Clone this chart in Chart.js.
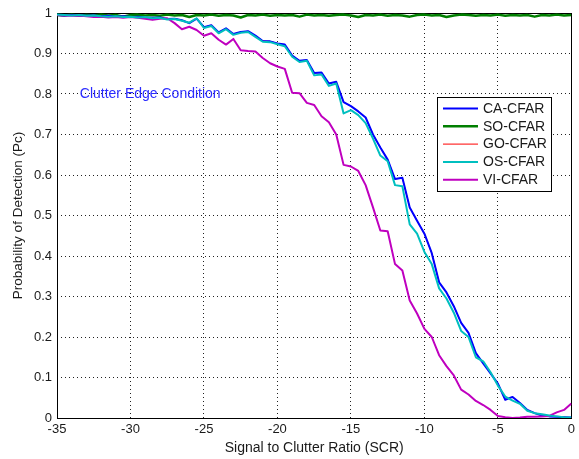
<!DOCTYPE html>
<html>
<head>
<meta charset="utf-8">
<title>Pc vs SCR</title>
<script src="https://cdn.jsdelivr.net/npm/chart.js@4.4.1/dist/chart.umd.min.js"></script>
<style>
  html, body { margin: 0; padding: 0; background: #fff; }
  canvas { display: block; }
</style>
</head>
<body>
<canvas id="pcChart" width="579" height="459"></canvas>
<script>
// signal to clutter ratio (dB)
var snr = [
  -35, -34.5, -34, -33.5, -33, -32.5, -32, -31.5, -31, -30.5,
  -30, -29.5, -29, -28.5, -28, -27.5, -27, -26.5, -26, -25.5,
  -25, -24.5, -24, -23.5, -23, -22.5, -22, -21.5, -21, -20.5,
  -20, -19.5, -19, -18.5, -18, -17.5, -17, -16.5, -16, -15.5,
  -15, -14.5, -14, -13.5, -13, -12.5, -12, -11.5, -11, -10.5,
  -10, -9.5, -9, -8.5, -8, -7.5, -7, -6.5, -6, -5.5,
  -5, -4.5, -4, -3.5, -3, -2.5, -2, -1.5, -1, -0.5,
  0
];

var caCfar = [
  0.995, 0.994, 0.995, 0.994, 0.993, 0.994, 0.992, 0.993, 0.991, 0.992,
  0.990, 0.991, 0.989, 0.988, 0.989, 0.985, 0.986, 0.982, 0.975, 0.986,
  0.965, 0.970, 0.952, 0.962, 0.948, 0.953, 0.955, 0.944, 0.931, 0.930,
  0.925, 0.922, 0.895, 0.882, 0.884, 0.852, 0.853, 0.826, 0.830, 0.780,
  0.770, 0.757, 0.742, 0.700, 0.668, 0.638, 0.590, 0.593, 0.520, 0.487,
  0.455, 0.407, 0.335, 0.310, 0.276, 0.235, 0.210, 0.160, 0.135, 0.110,
  0.085, 0.045, 0.052, 0.037, 0.020, 0.012, 0.006, 0.004, 0.003, 0.002,
  0.001
];

var soCfar = [
  0.995, 0.994, 0.996, 0.993, 0.995, 0.994, 0.996, 0.994, 0.995, 0.991,
  0.995, 0.996, 0.994, 0.995, 0.993, 0.996, 0.994, 0.995, 0.990, 0.995,
  0.994, 0.996, 0.993, 0.995, 0.994, 0.989, 0.995, 0.994, 0.996, 0.993,
  0.995, 0.994, 0.995, 0.991, 0.996, 0.994, 0.995, 0.993, 0.995, 0.996,
  0.994, 0.990, 0.995, 0.994, 0.996, 0.993, 0.995, 0.994, 0.991, 0.995,
  0.996, 0.994, 0.995, 0.990, 0.994, 0.996, 0.995, 0.993, 0.995, 0.994,
  0.996, 0.993, 0.995, 0.994, 0.995, 0.991, 0.995, 0.994, 0.996, 0.994,
  0.995
];

var goCfar = [
  0.995, 0.994, 0.995, 0.994, 0.993, 0.994, 0.992, 0.993, 0.991, 0.992,
  0.990, 0.991, 0.989, 0.988, 0.989, 0.985, 0.986, 0.982, 0.975, 0.986,
  0.965, 0.970, 0.952, 0.962, 0.948, 0.953, 0.955, 0.944, 0.931, 0.930,
  0.925, 0.922, 0.895, 0.882, 0.884, 0.852, 0.853, 0.826, 0.830, 0.780,
  0.770, 0.757, 0.742, 0.700, 0.668, 0.638, 0.590, 0.593, 0.520, 0.487,
  0.455, 0.407, 0.335, 0.310, 0.276, 0.235, 0.210, 0.160, 0.135, 0.110,
  0.085, 0.045, 0.052, 0.037, 0.020, 0.012, 0.006, 0.004, 0.003, 0.002,
  0.001
];

var osCfar = [
  0.996, 0.995, 0.994, 0.995, 0.993, 0.994, 0.992, 0.991, 0.992, 0.990,
  0.991, 0.989, 0.990, 0.987, 0.988, 0.984, 0.985, 0.981, 0.976, 0.987,
  0.963, 0.968, 0.950, 0.960, 0.946, 0.951, 0.953, 0.941, 0.929, 0.928,
  0.923, 0.918, 0.892, 0.879, 0.882, 0.846, 0.848, 0.820, 0.826, 0.752,
  0.760, 0.748, 0.728, 0.690, 0.648, 0.634, 0.575, 0.572, 0.478, 0.455,
  0.410, 0.380, 0.320, 0.295, 0.260, 0.215, 0.200, 0.150, 0.140, 0.113,
  0.080, 0.053, 0.043, 0.035, 0.018, 0.012, 0.009, 0.006, 0.004, 0.002,
  0.001
];

var viCfar = [
  0.995, 0.994, 0.993, 0.994, 0.992, 0.990, 0.991, 0.989, 0.990, 0.988,
  0.990, 0.988, 0.986, 0.983, 0.986, 0.987, 0.975, 0.960, 0.966, 0.958,
  0.944, 0.950, 0.934, 0.922, 0.936, 0.908, 0.906, 0.905, 0.889, 0.876,
  0.868, 0.862, 0.803, 0.802, 0.778, 0.773, 0.745, 0.730, 0.700, 0.625,
  0.621, 0.610, 0.575, 0.520, 0.463, 0.461, 0.380, 0.364, 0.290, 0.258,
  0.220, 0.200, 0.155, 0.128, 0.105, 0.070, 0.058, 0.042, 0.032, 0.020,
  0.005, 0.002, 0.000, 0.001, 0.003, 0.003, 0.004, 0.005, 0.014, 0.020,
  0.036
];

var xTicks = [-35, -30, -25, -20, -15, -10, -5, 0];
var yTicks = [0, 0.1, 0.2, 0.3, 0.4, 0.5, 0.6, 0.7, 0.8, 0.9, 1];

function toPoints(values) {
  return snr.map(function (x, i) { return { x: x, y: values[i] }; });
}

var FONT = '"Liberation Sans", Arial, Helvetica, sans-serif';

// axes box drawn solid over the dotted grid
var axesBox = {
  id: 'axesBox',
  beforeDatasetsDraw: function (chart) {
    var a = chart.chartArea, ctx = chart.ctx;
    ctx.save();
    ctx.strokeStyle = '#000';
    ctx.lineWidth = 1;
    ctx.strokeRect(Math.round(a.left) + 0.5, Math.round(a.top) + 0.5,
      Math.round(a.right - a.left), Math.round(a.bottom - a.top));
    ctx.restore();
  }
};

// boxed legend inside the plot, plus the condition caption
var legendBox = {
  id: 'legendBox',
  afterDatasetsDraw: function (chart) {
    var ctx = chart.ctx;
    var x = 437, y = 97, w = 114, h = 94;
    ctx.save();
    ctx.fillStyle = '#fff';
    ctx.fillRect(x, y, w, h);
    ctx.strokeStyle = '#000';
    ctx.lineWidth = 1;
    ctx.strokeRect(x + 0.5, y + 0.5, w, h);
    ctx.font = '14px ' + FONT;
    ctx.textBaseline = 'middle';
    chart.data.datasets.forEach(function (ds, i) {
      var ry = y + 11.5 + i * 17.8;
      ctx.strokeStyle = ds.borderColor;
      ctx.lineWidth = ds.borderWidth;
      ctx.beginPath();
      ctx.moveTo(x + 6, ry);
      ctx.lineTo(x + 41, ry);
      ctx.stroke();
      ctx.fillStyle = '#1a1a1a';
      ctx.fillText(ds.label, x + 46, ry + 0.5);
    });

    var sx = chart.scales.x, sy = chart.scales.y;
    ctx.font = '14px ' + FONT;
    ctx.fillStyle = '#2b2bff';
    ctx.textBaseline = 'middle';
    ctx.fillText('Clutter Edge Condition', sx.getPixelForValue(-33.45), sy.getPixelForValue(0.8));
    ctx.restore();
  }
};

var ctx = document.getElementById('pcChart').getContext('2d');
var pcChart = new Chart(ctx, {
  type: 'line',
  data: {
    datasets: [
      { label: 'CA-CFAR', data: toPoints(caCfar), borderColor: '#0000ff', borderWidth: 2, order: 1 },
      { label: 'SO-CFAR', data: toPoints(soCfar), borderColor: '#007f00', borderWidth: 2.5, order: 2 },
      { label: 'GO-CFAR', data: toPoints(goCfar), borderColor: '#ff0000', borderWidth: 1, order: 3 },
      { label: 'OS-CFAR', data: toPoints(osCfar), borderColor: '#00bfbf', borderWidth: 2, order: 0 },
      { label: 'VI-CFAR', data: toPoints(viCfar), borderColor: '#bf00bf', borderWidth: 2, order: 0 }
    ]
  },
  options: {
    responsive: false,
    animation: false,
    devicePixelRatio: 1,
    layout: { padding: { top: 13, right: 6, left: 0, bottom: 0 } },
    elements: {
      point: { radius: 0 },
      line: { tension: 0, borderJoinStyle: 'round', fill: false }
    },
    plugins: {
      legend: { display: false },
      tooltip: { enabled: false }
    },
    scales: {
      x: {
        type: 'linear',
        min: -35,
        max: 0,
        afterBuildTicks: function (s) { s.ticks = xTicks.map(function (v) { return { value: v }; }); },
        afterFit: function (s) { s.height = 41; },
        ticks: { color: '#1a1a1a', font: { family: FONT, size: 13 }, padding: 4, maxRotation: 0 },
        grid: { color: '#222', lineWidth: 1, drawTicks: false },
        border: { display: false, dash: [1, 3] },
        title: {
          display: true,
          text: 'Signal to Clutter Ratio (SCR)',
          color: '#1a1a1a',
          font: { family: FONT, size: 14 },
          padding: { top: 0, bottom: 2 }
        }
      },
      y: {
        min: 0,
        max: 1,
        afterBuildTicks: function (s) { s.ticks = yTicks.map(function (v) { return { value: v }; }); },
        afterFit: function (s) { s.width = 57; },
        ticks: {
          color: '#1a1a1a',
          font: { family: FONT, size: 13 },
          padding: 5,
          callback: function (v) { return String(Math.round(v * 10) / 10); }
        },
        grid: { color: '#222', lineWidth: 1, drawTicks: false },
        border: { display: false, dash: [1, 3] },
        title: {
          display: true,
          text: 'Probability of Detection (Pc)',
          color: '#1a1a1a',
          font: { family: FONT, size: 13.5 },
          padding: { top: 10, bottom: 0 }
        }
      }
    }
  },
  plugins: [axesBox, legendBox]
});
</script>
</body>
</html>
